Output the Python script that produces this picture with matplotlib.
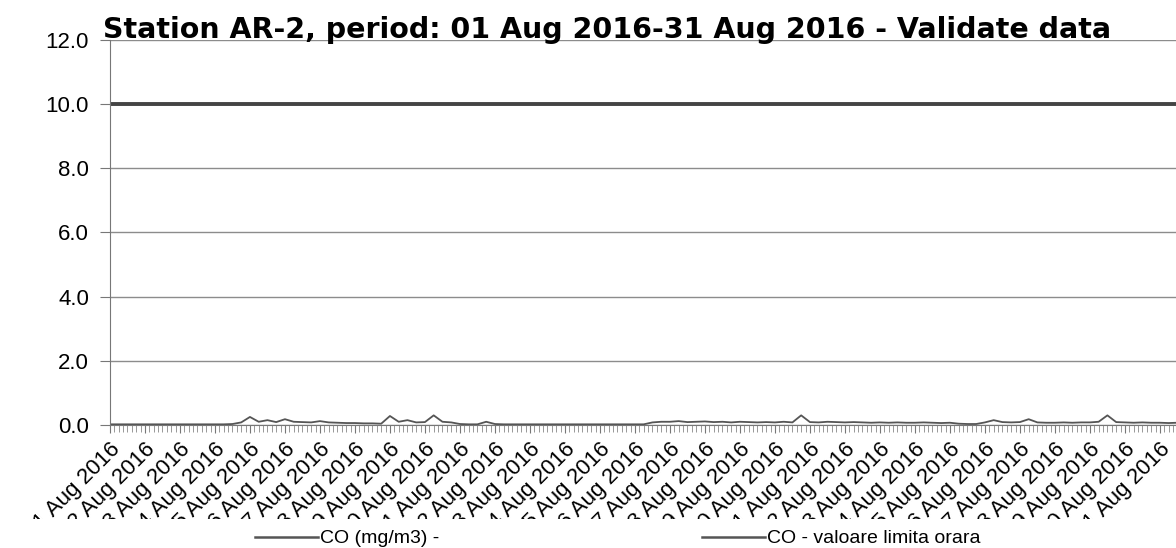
import matplotlib
matplotlib.use("Agg")
import matplotlib.pyplot as plt
import matplotlib.dates as mdates
from matplotlib.transforms import Bbox, TransformedBbox
import numpy as np
import pandas as pd

# valori CO la fiecare 6 ore, 01-31 Aug 2016 (mg/m3)
co_vals = [
    0.02, 0.02, 0.02, 0.02,   0.02, 0.02, 0.02, 0.02,   0.02, 0.02, 0.02, 0.02,
    0.02, 0.02, 0.03, 0.08,   0.25, 0.10, 0.15, 0.09,   0.18, 0.10, 0.09, 0.08,
    0.12, 0.08, 0.07, 0.06,   0.06, 0.05, 0.05, 0.04,   0.28, 0.10, 0.15, 0.08,
    0.09, 0.30, 0.10, 0.08,   0.03, 0.02, 0.02, 0.10,   0.03, 0.02, 0.02, 0.02,
    0.02, 0.02, 0.02, 0.02,   0.02, 0.02, 0.02, 0.02,   0.02, 0.02, 0.02, 0.02,
    0.02, 0.02, 0.08, 0.10,   0.10, 0.12, 0.09, 0.10,   0.11, 0.09, 0.10, 0.08,
    0.10, 0.09, 0.08, 0.09,   0.08, 0.10, 0.08, 0.30,   0.09, 0.08, 0.10, 0.09,
    0.08, 0.09, 0.08, 0.07,   0.08, 0.07, 0.08, 0.07,   0.07, 0.08, 0.07, 0.06,
    0.07, 0.04, 0.03, 0.03,   0.08, 0.15, 0.09, 0.08,   0.09, 0.18, 0.08, 0.07,
    0.07, 0.08, 0.07, 0.08,   0.08, 0.10, 0.30, 0.09,   0.08, 0.07, 0.08, 0.07,
    0.07, 0.06, 0.07, 0.06,
]
limita = 10.0
y_ticks = [0, 2, 4, 6, 8, 10, 12]

timp = pd.date_range("2016-08-01", periods=len(co_vals), freq="6h")

plt.rcParams["font.family"] = ["Liberation Sans", "DejaVu Sans"]

fig = plt.figure(figsize=(11.76, 5.48), dpi=100)
ax = fig.add_axes([0.0935, 0.2245, 0.9065, 0.7025])

ax.plot(timp, co_vals, color="#555555", lw=1.3, label="CO (mg/m3) -")
ax.plot(timp, [limita] * len(timp), color="#444444", lw=2.8,
        label="CO - valoare limita orara")

ax.set_ylim(0, 12)
ax.set_yticks(y_ticks)
ax.yaxis.set_major_formatter(matplotlib.ticker.FormatStrFormatter("%.1f"))
ax.grid(axis="y", color="#8c8c8c", lw=1.0)

start = pd.Timestamp("2016-08-01")
ax.set_xlim(start, start + pd.Timedelta(days=30.46))
ax.xaxis.set_major_locator(mdates.DayLocator())
ax.xaxis.set_major_formatter(mdates.DateFormatter("%d Aug %Y"))
ax.xaxis.set_minor_locator(mdates.HourLocator(byhour=range(0, 24, 3)))

ax.tick_params(axis="y", labelsize=16, length=7, pad=8, color="#777777")
ax.tick_params(axis="x", which="major", labelsize=16, length=6, pad=4,
               color="#777777")
ax.tick_params(axis="x", which="minor", length=5, color="#888888")

# etichetele de data sunt taiate jos, deasupra legendei
zona = TransformedBbox(Bbox([[0, 29 / 548], [1, 1]]), fig.transFigure)
for lbl in ax.get_xticklabels():
    lbl.set_rotation(45)
    lbl.set_ha("right")
    lbl.set_rotation_mode("anchor")
    lbl.set_clip_box(zona)
    lbl.set_clip_on(True)

for s in ["top", "right"]:
    ax.spines[s].set_visible(False)
ax.spines["left"].set_color("#777777")
ax.spines["bottom"].set_color("#777777")

fig.text(0.0876, 0.93, "Station AR-2, period: 01 Aug 2016-31 Aug 2016 - Validate data",
         fontsize=20.5, fontweight="bold", family="DejaVu Sans", ha="left", va="baseline")

leg = fig.legend(loc="center left", bbox_to_anchor=(0.202, 0.017), ncol=2, frameon=False,
                 fontsize=14, handlelength=3.25, columnspacing=13.5, handletextpad=0.1)
for h in leg.get_lines():
    h.set_linewidth(1.8)
    h.set_color("#555555")

fig.savefig("out.png", dpi=100)
